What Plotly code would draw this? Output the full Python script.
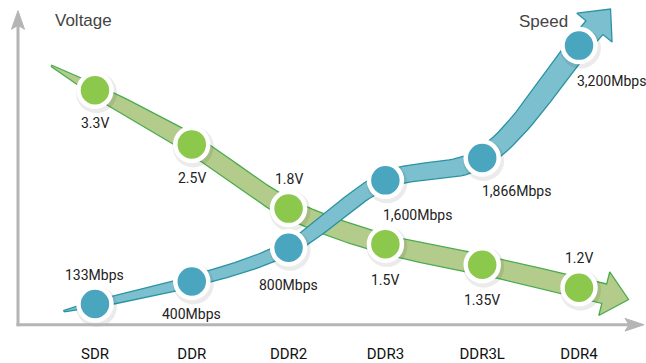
import numpy as np
import plotly.graph_objects as go

# ---------------- data ----------------
categories = ["SDR", "DDR", "DDR2", "DDR3", "DDR3L", "DDR4"]
voltage = [3.3, 2.5, 1.8, 1.5, 1.35, 1.2]
voltage_labels = ["3.3V", "2.5V", "1.8V", "1.5V", "1.35V", "1.2V"]
speed = [133, 400, 800, 1600, 1866, 3200]
speed_labels = ["133Mbps", "400Mbps", "800Mbps", "1,600Mbps", "1,866Mbps", "3,200Mbps"]

# ---------------- layout / style ----------------
W, H = 646, 363
X_RANGE = [-0.981, 5.692]
Y_LOG_RANGE = [-0.0683, 0.7193]      # voltage axis (log)
Y2_RANGE = [-461, 3741]              # speed axis (linear)

GREEN_FILL, GREEN_EDGE, GREEN_DOT = "#b4cc8b", "#4aab4e", "#8cc84b"
BLUE_FILL, BLUE_EDGE, BLUE_DOT = "#7cc0cf", "#2a93a2", "#4aa5be"
OVERLAP_FILL, OVERLAP_EDGE = "#4a8a5a", "#3a7a48"
AXIS_GREY = "#b5b5b5"
TEXT = "#222222"
LABEL_FONT = "Roboto"

# label offsets in pixels (dx, dy-up)
v_off = [(0, -33), (0, -34), (0, 30), (0, -36), (0, -35), (0, 30)]
s_off = [(0, 29), (0, -33), (0, -37), (32, -35), (34, -33), (32, -35)]

xi = np.arange(len(categories), dtype=float)


def px_x(x):
    return (np.asarray(x, float) - X_RANGE[0]) / (X_RANGE[1] - X_RANGE[0]) * W


def x_from_px(p):
    return X_RANGE[0] + np.asarray(p, float) / W * (X_RANGE[1] - X_RANGE[0])


def py_v(v):
    return H * (1 - (np.log10(v) - Y_LOG_RANGE[0]) / (Y_LOG_RANGE[1] - Y_LOG_RANGE[0]))


def v_from_py(p):
    return 10 ** (Y_LOG_RANGE[1] - np.asarray(p, float) / H * (Y_LOG_RANGE[1] - Y_LOG_RANGE[0]))


def py_s(s):
    return H * (1 - (np.asarray(s, float) - Y2_RANGE[0]) / (Y2_RANGE[1] - Y2_RANGE[0]))


def s_from_py(p):
    return Y2_RANGE[1] - np.asarray(p, float) / H * (Y2_RANGE[1] - Y2_RANGE[0])


def catmull(pts, n=24, alpha=0.5):
    """Centripetal Catmull-Rom spline through pts."""
    pts = np.asarray(pts, float)
    P = np.vstack([2 * pts[0] - pts[1], pts, 2 * pts[-1] - pts[-2]])
    out = []
    for i in range(1, len(P) - 2):
        p0, p1, p2, p3 = P[i - 1], P[i], P[i + 1], P[i + 2]
        t0 = 0.0
        t1 = t0 + np.linalg.norm(p1 - p0) ** alpha
        t2 = t1 + np.linalg.norm(p2 - p1) ** alpha
        t3 = t2 + np.linalg.norm(p3 - p2) ** alpha
        for t in np.linspace(t1, t2, n, endpoint=False):
            A1 = (t1 - t) / (t1 - t0) * p0 + (t - t0) / (t1 - t0) * p1
            A2 = (t2 - t) / (t2 - t1) * p1 + (t - t1) / (t2 - t1) * p2
            A3 = (t3 - t) / (t3 - t2) * p2 + (t - t2) / (t3 - t2) * p3
            B1 = (t2 - t) / (t2 - t0) * A1 + (t - t0) / (t2 - t0) * A2
            B2 = (t3 - t) / (t3 - t1) * A2 + (t - t1) / (t3 - t1) * A3
            out.append((t2 - t) / (t2 - t1) * B1 + (t - t1) / (t2 - t1) * B2)
    out.append(P[-2])
    return np.array(out)


def band(points_px, tail_frac, end_ext, w_s, w_w, head_hw, head_len):
    P = np.asarray(points_px, float)
    tail = P[0] - tail_frac * (P[1] - P[0])
    d = P[-1] - P[-2]
    d = d / np.linalg.norm(d)
    end = P[-1] + end_ext * d
    C = catmull(np.vstack([tail, P, end]))
    seg = np.diff(C, axis=0)
    L = np.r_[0, np.cumsum(np.hypot(seg[:, 0], seg[:, 1]))]
    s = L / L[-1]
    T = np.gradient(C, axis=0)
    T = T / np.hypot(T[:, 0], T[:, 1])[:, None]
    N = np.c_[-T[:, 1], T[:, 0]]
    w = np.interp(s, w_s, w_w)
    up = C + N * (w / 2)[:, None]
    lo = C - N * (w / 2)[:, None]
    te, ne = T[-1], N[-1]
    head = np.array([end + ne * head_hw, end + te * head_len, end - ne * head_hw])
    poly = np.vstack([up, head, lo[::-1], up[:1]])
    return C, T, N, w, poly


# pixel positions of the points (through the axis scales)
gx = px_x(xi)
gpts = np.c_[gx, py_v(voltage)]
bpts = np.c_[gx, py_s(speed)]

gC, gT, gN, gW, gpoly = band(gpts, 0.45, 26, [0, 0.1, 0.25, 1], [1.5, 14, 19, 20.5], 23, 25)
bC, bT, bN, bW, bpoly = band(bpts, 0.32, 24, [0, 0.06, 0.25, 0.45, 0.65, 0.9, 1],
                             [1.5, 8, 12, 15, 18, 22, 22], 23, 25)

# crossing of the two centre lines
cross = None
for i in range(len(gC) - 1):
    a1, a2 = gC[i], gC[i + 1]
    for j in range(len(bC) - 1):
        b1, b2 = bC[j], bC[j + 1]
        r, q = a2 - a1, b2 - b1
        den = r[0] * q[1] - r[1] * q[0]
        if abs(den) < 1e-9:
            continue
        t = ((b1[0] - a1[0]) * q[1] - (b1[1] - a1[1]) * q[0]) / den
        u = ((b1[0] - a1[0]) * r[1] - (b1[1] - a1[1]) * r[0]) / den
        if 0 <= t <= 1 and 0 <= u <= 1:
            cross = (a1 + t * r, i, j)
            break
    if cross is not None:
        break

fig = go.Figure()

# blue band (speed)
fig.add_trace(go.Scatter(x=x_from_px(bpoly[:, 0]), y=s_from_py(bpoly[:, 1]), yaxis="y2",
                         mode="lines", fill="toself", fillcolor=BLUE_FILL,
                         line=dict(color=BLUE_EDGE, width=1.3), hoverinfo="skip",
                         showlegend=False))
# green band (voltage)
fig.add_trace(go.Scatter(x=x_from_px(gpoly[:, 0]), y=v_from_py(gpoly[:, 1]), yaxis="y",
                         mode="lines", fill="toself", fillcolor=GREEN_FILL,
                         line=dict(color=GREEN_EDGE, width=1.3), hoverinfo="skip",
                         showlegend=False))

# overlap region
if cross is not None:
    X, i, j = cross
    tg, ng, wg = gT[i], gN[i], gW[i]
    tb, nb, wb = bT[j], bN[j], bW[j]
    a = (wb / 2) / abs(nb @ tg)
    b = (wg / 2) / abs(ng @ tb)
    quad = np.array([X + a * tg + b * tb, X + a * tg - b * tb,
                     X - a * tg - b * tb, X - a * tg + b * tb, X + a * tg + b * tb])
    fig.add_trace(go.Scatter(x=x_from_px(quad[:, 0]), y=v_from_py(quad[:, 1]), yaxis="y",
                             mode="lines", fill="toself", fillcolor=OVERLAP_FILL,
                             line=dict(color=OVERLAP_EDGE, width=1), hoverinfo="skip",
                             showlegend=False))

# soft shadows under the dots
for pts, yfun, ax in [(gpts, v_from_py, "y"), (bpts, s_from_py, "y2")]:
    fig.add_trace(go.Scatter(x=x_from_px(pts[:, 0] + 1.5), y=yfun(pts[:, 1] + 2.5), yaxis=ax,
                             mode="markers", marker=dict(size=41, color="rgba(0,0,0,0.08)"),
                             hoverinfo="skip", showlegend=False))

# dots
fig.add_trace(go.Scatter(x=xi, y=speed, yaxis="y2", mode="markers",
                         marker=dict(size=33, color=BLUE_DOT, line=dict(color="white", width=4.5)),
                         showlegend=False, name="Speed"))
fig.add_trace(go.Scatter(x=xi, y=voltage, yaxis="y", mode="markers",
                         marker=dict(size=33, color=GREEN_DOT, line=dict(color="white", width=4.5)),
                         showlegend=False, name="Voltage"))

annotations = []
for k in range(len(categories)):
    annotations.append(dict(x=xi[k], y=np.log10(voltage[k]), xref="x", yref="y",
                            text=voltage_labels[k], showarrow=False,
                            xshift=v_off[k][0], yshift=v_off[k][1],
                            font=dict(family=LABEL_FONT, size=14, color=TEXT)))
    annotations.append(dict(x=xi[k], y=speed[k], xref="x", yref="y2",
                            text=speed_labels[k], showarrow=False,
                            xshift=s_off[k][0], yshift=s_off[k][1],
                            font=dict(family=LABEL_FONT, size=14, color=TEXT)))

annotations.append(dict(x=83 / W, y=1 - 21 / H, xref="paper", yref="paper", text="Voltage",
                        xanchor="center", yanchor="middle", showarrow=False,
                        font=dict(family="Liberation Sans", size=17, color="#444")))
annotations.append(dict(x=543 / W, y=1 - 22 / H, xref="paper", yref="paper", text="Speed",
                        xanchor="center", yanchor="middle", showarrow=False,
                        font=dict(family="Liberation Sans", size=17, color="#444")))


def P(x, y):
    return f"{x / W:.5f},{1 - y / H:.5f}"


shapes = [
    dict(type="line", xref="paper", yref="paper", x0=18 / W, x1=18 / W,
         y0=1 - 334.5 / H, y1=1 - 24 / H, line=dict(color=AXIS_GREY, width=3)),
    dict(type="path", xref="paper", yref="paper",
         path=f"M{P(18, 11)} L{P(11.5, 30)} L{P(18, 26)} L{P(24.5, 30)} Z",
         fillcolor=AXIS_GREY, line=dict(color=AXIS_GREY, width=1)),
    dict(type="line", xref="paper", yref="paper", x0=16.5 / W, x1=632 / W,
         y0=1 - 333 / H, y1=1 - 333 / H, line=dict(color=AXIS_GREY, width=3)),
    dict(type="path", xref="paper", yref="paper",
         path=f"M{P(644, 333)} L{P(625, 326.5)} L{P(629, 333)} L{P(625, 339.5)} Z",
         fillcolor=AXIS_GREY, line=dict(color=AXIS_GREY, width=1)),
]

fig.update_layout(
    width=W, height=H, autosize=False,
    margin=dict(l=0, r=0, t=0, b=0),
    paper_bgcolor="white", plot_bgcolor="white",
    showlegend=False,
    xaxis=dict(range=X_RANGE, domain=[0, 1], anchor="free", position=30 / H,
               tickvals=xi, ticktext=categories, ticks="", showgrid=False, zeroline=False,
               showline=False, ticklabelstandoff=18,
               tickfont=dict(family=LABEL_FONT, size=15, color="#111111")),
    yaxis=dict(type="log", range=Y_LOG_RANGE, domain=[0, 1], visible=False),
    yaxis2=dict(range=Y2_RANGE, overlaying="y", visible=False),
    annotations=annotations,
    shapes=shapes,
)

fig.write_html("out.html", config={"displayModeBar": False})
